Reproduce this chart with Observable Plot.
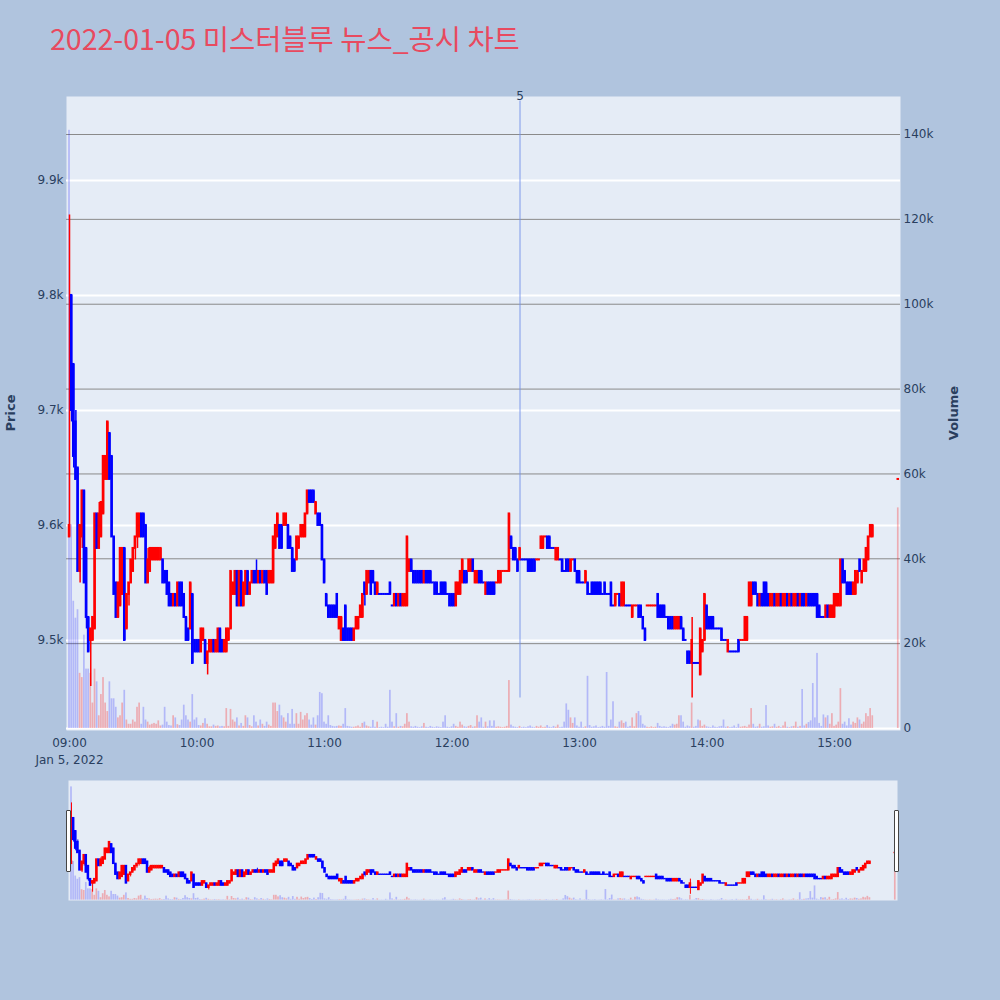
<!DOCTYPE html>
<html>
<head>
<meta charset="utf-8">
<script src="https://cdn.jsdelivr.net/npm/d3@7"></script>
<script src="https://cdn.jsdelivr.net/npm/@observablehq/plot@0.6"></script>
<style>
  html,body{margin:0;padding:0;background:#B0C4DE;}
  #wrap{position:relative;width:1000px;height:1000px;background:#B0C4DE;overflow:hidden;}
  #title{position:absolute;left:50px;top:21px;font-family:"Noto Sans CJK KR","Noto Sans",sans-serif;font-size:28.5px;line-height:34px;color:#E84A5F;white-space:nowrap;}
  .axlab{position:absolute;font-family:"DejaVu Sans",sans-serif;font-size:13px;font-weight:bold;color:#2a3f5f;white-space:nowrap;transform:translate(-50%,-50%) rotate(-90deg);}
  .handle{position:absolute;width:3px;height:60px;background:#fff;border:1px solid #444;border-radius:1px;}
  #main,#slider{position:absolute;left:0;}
  #main{top:0;} #slider{top:780px;}
</style>
</head>
<body>
<div id="wrap">
  <div id="title">2022-01-05 미스터블루 뉴스_공시 차트</div>
  <div id="main"></div>
  <div id="slider"></div>
  <div class="axlab" style="left:10px;top:413px">Price</div>
  <div class="axlab" style="left:953px;top:413px">Volume</div>
  <div class="handle" style="left:66px;top:810px"></div>
  <div class="handle" style="left:894px;top:810px"></div>
</div>
<script>
// ---- data: one candle per minute from 09:00 ----
const startTime = "09:00";
const open = [
9590,9800,9740,9690,9650,9560,9590,9630,9580,9520,
9500,9500,9510,9610,9580,9590,9610,9640,9640,9680,
9660,9590,9550,9520,9530,9540,9580,9510,9540,9550,
9560,9580,9590,9590,9610,9610,9600,9550,9560,9570,
9570,9570,9570,9570,9570,9560,9560,9550,9540,9530,
9540,9530,9550,9550,9540,9520,9510,9510,9540,9500,
9500,9500,9490,9500,9500,9480,9490,9490,9500,9490,
9490,9510,9500,9490,9490,9500,9510,9540,9540,9560,
9530,9560,9530,9540,9560,9540,9550,9560,9560,9550,
9560,9550,9560,9560,9550,9550,9550,9580,9590,9600,
9600,9600,9600,9600,9590,9580,9570,9570,9580,9590,
9590,9590,9610,9630,9630,9630,9610,9610,9610,9600,
9570,9540,9530,9530,9530,9530,9540,9510,9500,9510,
9530,9510,9510,9510,9500,9510,9510,9520,9520,9550,
9540,9550,9560,9560,9550,9540,9540,9540,9540,9540,
9540,9550,9530,9530,9540,9530,9540,9530,9530,9530,
9560,9570,9560,9560,9560,9560,9560,9550,9560,9560,
9560,9550,9550,9550,9540,9550,9550,9550,9540,9540,
9540,9540,9530,9540,9540,9550,9560,9560,9560,9560,
9570,9550,9550,9560,9560,9550,9540,9550,9550,9550,
9550,9550,9550,9550,9560,9560,9560,9560,9590,9580,
9580,9570,9570,9570,9570,9570,9570,9570,9570,9570,
9570,9570,9580,9580,9590,9590,9590,9580,9580,9570,
9570,9570,9570,9560,9570,9570,9560,9570,9570,9560,
9560,9550,9550,9550,9550,9540,9550,9550,9550,9550,
9550,9540,9550,9540,9540,9550,9530,9530,9540,9540,
9530,9530,9530,9530,9530,9520,9530,9530,9530,9530,
9520,9510,9530,9530,9530,9530,9530,9540,9530,9530,
9530,9520,9520,9520,9520,9510,9510,9510,9520,9510,
9500,9490,9490,9480,9480,9480,9480,9470,9490,9500,
9530,9520,9520,9520,9510,9510,9510,9510,9500,9500,
9490,9490,9490,9490,9490,9500,9500,9500,9500,9500,
9530,9530,9550,9550,9540,9530,9540,9550,9550,9540,
9530,9530,9540,9530,9530,9540,9530,9530,9540,9530,
9540,9530,9530,9540,9530,9540,9540,9530,9540,9540,
9540,9540,9540,9530,9520,9520,9520,9530,9520,9520,
9520,9530,9530,9530,9570,9560,9550,9550,9550,9540,
9540,9550,9570,9550,9560,9560,9570,9590,9590
];
const close = [
9600,9700,9660,9640,9560,9600,9630,9550,9520,9490,
9510,9520,9610,9580,9610,9620,9660,9660,9690,9640,
9590,9540,9520,9550,9580,9580,9500,9540,9550,9570,
9580,9590,9610,9610,9590,9590,9550,9570,9580,9580,
9580,9580,9580,9580,9550,9550,9540,9530,9530,9540,
9530,9550,9530,9530,9520,9500,9500,9550,9480,9490,
9490,9490,9510,9510,9480,9490,9500,9500,9490,9500,
9510,9490,9490,9500,9510,9510,9560,9550,9560,9530,
9560,9530,9550,9560,9540,9550,9560,9550,9550,9560,
9550,9560,9550,9540,9560,9560,9590,9600,9610,9580,
9580,9610,9610,9580,9580,9560,9560,9590,9590,9600,
9600,9610,9630,9620,9620,9620,9620,9600,9600,9570,
9550,9530,9520,9520,9520,9520,9520,9520,9520,9500,
9500,9500,9500,9500,9510,9520,9520,9530,9540,9540,
9560,9560,9540,9550,9540,9550,9540,9540,9540,9540,
9540,9540,9530,9540,9530,9540,9530,9540,9540,9590,
9570,9560,9550,9550,9550,9550,9550,9560,9550,9550,
9550,9550,9540,9540,9540,9540,9540,9540,9540,9530,
9530,9530,9550,9550,9560,9570,9550,9550,9570,9570,
9560,9560,9560,9550,9550,9550,9550,9540,9540,9540,
9540,9550,9560,9560,9560,9560,9560,9610,9580,9570,
9570,9560,9580,9570,9570,9570,9560,9560,9560,9560,
9570,9570,9590,9590,9590,9580,9580,9580,9580,9580,
9580,9570,9560,9560,9560,9560,9570,9570,9560,9550,
9550,9550,9550,9560,9540,9540,9540,9540,9540,9540,
9540,9540,9540,9540,9540,9530,9530,9540,9540,9530,
9550,9550,9530,9530,9530,9530,9530,9530,9520,9520,
9510,9500,9530,9530,9530,9530,9530,9520,9520,9520,
9520,9520,9510,9510,9510,9520,9520,9520,9510,9500,
9500,9480,9480,9500,9480,9480,9480,9510,9500,9540,
9510,9510,9510,9510,9510,9510,9510,9500,9500,9500,
9500,9490,9490,9490,9490,9490,9500,9500,9520,9520,
9550,9550,9540,9540,9530,9540,9530,9530,9530,9530,
9540,9540,9530,9540,9540,9530,9540,9540,9530,9540,
9530,9540,9540,9530,9540,9530,9530,9540,9530,9530,
9530,9530,9520,9520,9520,9520,9530,9520,9530,9530,
9540,9540,9540,9570,9550,9550,9540,9540,9540,9550,
9560,9560,9560,9560,9570,9580,9590,9600,9600
];
const volume = [
141000,48000,30000,26000,28000,13000,12000,22000,14000,14000,
13000,6000,14000,11000,3000,8000,12000,6000,4000,11000,
7000,7000,5000,2500,3000,6000,9000,2000,1000,1000,
2000,1500,5000,6000,1000,5000,2000,1500,800,1000,
1200,1000,1800,600,800,5000,1500,700,600,3000,
2500,900,700,2000,5500,3000,2000,1500,8000,2000,
2500,700,600,1200,2300,1000,400,400,800,500,
600,400,500,400,4700,500,4500,2000,1500,2500,
600,1200,500,3000,2500,700,400,3000,1500,600,
2000,1000,500,1500,800,500,6000,6000,4000,5500,
3000,2500,1500,3500,1000,4500,1000,3500,1000,3800,
2000,3000,3500,2000,800,2500,800,3000,8500,8200,
1500,1000,3000,700,500,400,500,600,500,1000,
4700,500,400,300,300,400,600,300,1200,1500,
600,400,300,1900,300,1500,200,300,200,1000,
300,9000,1500,400,3500,300,500,400,1000,3500,
1500,400,300,500,300,200,400,1200,300,200,
500,300,200,400,300,200,1500,3000,300,200,
400,1000,500,300,1500,800,400,300,500,700,
300,400,3000,1500,2500,300,1500,400,1800,500,
1800,300,400,300,200,300,500,11300,800,400,
300,200,500,200,300,200,400,600,300,200,
500,300,600,200,300,700,300,200,500,300,
800,200,300,1500,5800,4300,2500,1200,2500,600,
300,1500,200,400,12300,700,300,400,600,200,
300,500,300,13200,500,2000,6300,400,300,1500,
1800,1200,1500,300,500,2500,400,3500,4000,3000,
1000,600,300,200,400,200,300,1200,500,300,
400,300,200,500,1000,800,1000,3000,3000,1500,
300,600,400,6000,300,500,2000,1800,500,800,
400,300,200,600,300,200,400,500,2000,300,
400,200,300,600,200,1000,300,400,500,300,
800,4700,1000,300,400,1000,300,400,5400,600,
300,400,1000,300,500,200,600,1500,300,200,
400,500,1500,300,500,9200,600,1000,1400,1800,
10600,2500,17700,1200,500,3200,2500,3000,1000,3500,
500,800,1500,9400,1000,1500,600,2300,800,1500,
1200,2500,2000,1000,1500,3500,2800,4700,3000
];
// visible wicks beyond the body: [minute index, price]
const wickHigh = [[0,9870],[3,9700],[14,9620],[37,9580],[88,9570],[293,9520]];
const wickLow = [[1,9690],[2,9650],[5,9550],[6,9580],[8,9510],[10,9460],[28,9530],[31,9570],[32,9580],[65,9470],[139,9530],[293,9450]];
const closingAuction = {time:"15:30", open:9640, high:9640, low:9640, close:9640, volume:52000};
const openingVolumeDir = "down";
const priceTicks = [9500,9600,9700,9800,9900];
const volumeTicks = [0,20000,40000,60000,80000,100000,120000,140000];
const hourTicks = ["09:00","10:00","11:00","12:00","13:00","14:00","15:00"];
const dateLabel = "Jan 5, 2022";
const annotation = {time:"12:32", label:"5"};

// ---- build ----
const at = (hhmm, addMin=0) => { const [h,m] = hhmm.split(":").map(Number); return new Date(2022,0,5,h,m+addMin); };
const sec = (d,s) => new Date(d.getTime()+s*1000);
const hi = new Map(wickHigh), lo = new Map(wickLow);
const candles = open.map((o,i)=>({t:at(startTime,i), o, c:close[i],
  h: hi.has(i)?hi.get(i):Math.max(o,close[i]), l: lo.has(i)?lo.get(i):Math.min(o,close[i]), v:volume[i]}));
candles.push({t:at(closingAuction.time), o:closingAuction.open, h:closingAuction.high, l:closingAuction.low, c:closingAuction.close, v:closingAuction.volume});
let prevDir="up", prevClose=null;
for (const d of candles){
  let dir;
  if (d.c>d.o) dir="up"; else if (d.c<d.o) dir="down";
  else dir = prevClose==null?prevDir:(d.c>prevClose?"up":d.c<prevClose?"down":prevDir);
  d.dir=dir; d.vdir=dir; prevDir=dir; prevClose=d.c;
}
candles[0].vdir = openingVolumeDir;

const yDomain=[9421.7,9973];
const volToPrice = d3.scaleLinear([-470,148960], yDomain);
const xDomain=[new Date(2022,0,5,8,58,35), new Date(2022,0,5,15,31,3)];
const UP="#FF0000", DOWN="#0000FF";
const col = d => d.dir==="up"?UP:DOWN;
const vcol = d => d.vdir==="up"?"rgba(255,0,0,0.27)":"rgba(0,0,255,0.22)";
const fmtPrice = p => (p/1000).toFixed(1)+"k";
const fmtVol = p => { const v=Math.round(volToPrice.invert(p)/1000)*1000; return v===0?"0":(v/1000)+"k"; };
const timeFmt = d3.timeFormat("%H:%M");

function candleMarks(bodyHalf, inset, wickW){
  return [
    Plot.rect(candles,{x1:d=>sec(d.t,-24), x2:d=>sec(d.t,24), y1:volToPrice(0), y2:d=>volToPrice(d.v), fill:vcol}),
    Plot.ruleX(candles,{x:"t", y1:"l", y2:"h", stroke:col, strokeWidth:wickW}),
    Plot.rect(candles,{x1:d=>sec(d.t,-bodyHalf), x2:d=>sec(d.t,bodyHalf), y1:"o", y2:"c", fill:col, insetTop:-inset, insetBottom:-inset})
  ];
}

const main = Plot.plot({
  width:1000, height:780, marginLeft:66, marginRight:100, marginTop:96, marginBottom:50,
  style:{background:"transparent", fontFamily:"DejaVu Sans, sans-serif", fontSize:"12px", color:"#2a3f5f", overflow:"visible"},
  x:{type:"time", domain:xDomain},
  y:{domain:yDomain},
  color:{type:"identity"},
  marks:[
    Plot.frame({fill:"#E5ECF6", stroke:"none"}),
    Plot.gridY(volumeTicks.slice(1).map(v=>volToPrice(v)), {stroke:"#8a8a8a", strokeOpacity:1, strokeWidth:1}),
    Plot.gridY(priceTicks, {stroke:"#ffffff", strokeOpacity:1, strokeWidth:2}),
    Plot.ruleY([volToPrice(0)], {stroke:"#ffffff", strokeWidth:2}),
    Plot.ruleX([annotation],{x:d=>at(d.time), y1:9450, y2:9969, stroke:"#7090E8", strokeOpacity:0.45, strokeWidth:2}),
    ...candleMarks(36, 1, 1.5),
    Plot.text([annotation],{x:d=>at(d.time), y:yDomain[1], text:"label", fill:"#2a3f5f", fontSize:12}),
    Plot.axisY(priceTicks,{anchor:"left", tickSize:0, tickPadding:3, tickFormat:fmtPrice, label:null}),
    Plot.axisY(volumeTicks.map(v=>volToPrice(v)),{anchor:"right", tickSize:0, tickPadding:3, tickFormat:fmtVol, label:null}),
    Plot.axisX(hourTicks.map(h=>at(h)),{tickSize:0, tickPadding:5, lineHeight:1.4, label:null,
      tickFormat:(d,i)=> i===0 ? timeFmt(d)+"\n"+dateLabel : timeFmt(d)})
  ]
});
document.getElementById("main").appendChild(main);

const slider = Plot.plot({
  width:1000, height:120, marginLeft:68, marginRight:103, marginTop:0, marginBottom:0,
  style:{background:"transparent", overflow:"visible"},
  x:{type:"time", domain:xDomain, axis:null},
  y:{domain:yDomain, axis:null},
  color:{type:"identity"},
  marks:[
    Plot.frame({fill:"#E5ECF6", stroke:"none"}),
    ...candleMarks(36, 0.7, 1)
  ]
});
document.getElementById("slider").appendChild(slider);
</script>
</body>
</html>
